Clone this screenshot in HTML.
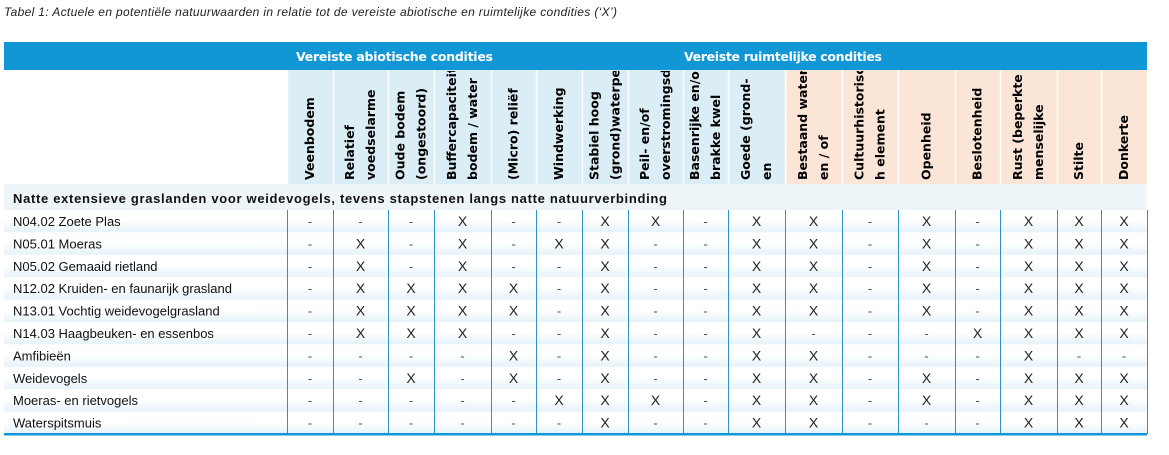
<!DOCTYPE html>
<html><head><meta charset="utf-8"><style>
html,body{margin:0;padding:0;background:#fff;}
svg{display:block;}
</style></head><body>
<svg id="tbl" width="1169" height="455" xmlns="http://www.w3.org/2000/svg">
<defs>
<linearGradient id="rowg" x1="0" y1="0" x2="0" y2="1">
<stop offset="0" stop-color="#ffffff"/><stop offset="0.45" stop-color="#ffffff"/><stop offset="1" stop-color="#e6f2f9"/>
</linearGradient>
</defs>
<text x="4" y="16" font-family="Liberation Sans, sans-serif" font-style="italic" font-size="12" fill="#222" textLength="613">Tabel 1: Actuele en potentiële natuurwaarden in relatie tot de vereiste abiotische en ruimtelijke condities (‘X’)</text>
<rect x="4" y="42" width="1143" height="28" fill="#1197d6"/>
<text x="296" y="61" font-family="DejaVu Sans, sans-serif" font-weight="bold" font-size="12.5" fill="#fff" textLength="197">Vereiste abiotische condities</text>
<text x="684" y="61" font-family="DejaVu Sans, sans-serif" font-weight="bold" font-size="12.5" fill="#fff" textLength="198">Vereiste ruimtelijke condities</text>
<rect x="4" y="184" width="1143" height="26" fill="#eef5f9"/>
<text x="13" y="203" font-family="Liberation Sans, sans-serif" font-weight="bold" font-size="13" fill="#111" textLength="654">Natte extensieve graslanden voor weidevogels, tevens stapstenen langs natte natuurverbinding</text>
<g id="hdr"></g>
<g id="body"></g>
</svg>
<script>
const columns = ["Veenbodem","Relatief|voedselarme","Oude bodem|(ongestoord)","Buffercapaciteit|bodem / water","(Micro) reliëf","Windwerking","Stabiel hoog|(grond)waterpeil","Peil- en/of|overstromingsd","Basenrijke en/of|brakke kwel","Goede (grond-|en","Bestaand water-|en / of","Cultuurhistorisc|h element","Openheid","Beslotenheid","Rust (beperkte|menselijke","Stilte","Donkerte"];
const columnGroup = ["a","a","a","a","a","a","a","a","a","a","r","r","r","r","r","r","r"];
const rowLabels = ["N04.02 Zoete Plas","N05.01 Moeras","N05.02 Gemaaid rietland","N12.02 Kruiden- en faunarijk grasland","N13.01 Vochtig weidevogelgrasland","N14.03 Haagbeuken- en essenbos","Amfibieën","Weidevogels","Moeras- en rietvogels","Waterspitsmuis"];
const cellValues = [
"---X--XX-XX-X-XXX",
"-X-X-XX--XX-X-XXX",
"-X-X--X--XX-X-XXX",
"-XXXX-X--XX-X-XXX",
"-XXXX-X--XX-X-XXX",
"-XXX--X--X---XXXX",
"----X-X--XX---X--",
"--X-X-X--XX-X-XXX",
"-----XXX-XX-X-XXX",
"------X--XX---XXX"
];
const NS="http://www.w3.org/2000/svg";
const edges=[287,333,388,434,491,536,582,628,683,728,785,842,898,955,1000,1057,1101,1147];
const hdr=document.getElementById('hdr'), body=document.getElementById('body');
const rowTop=210, rowH=22.4;
function mk(tag,attrs,parent){const e=document.createElementNS(NS,tag);for(const k in attrs)e.setAttribute(k,attrs[k]);parent.appendChild(e);return e;}
columns.forEach((c,i)=>{
  const x0=edges[i],x1=edges[i+1];
  const r=mk('rect',{x:x0,y:70,width:x1-x0,height:114,fill:columnGroup[i]==='a'?'#dbedf5':'#fbe5d6'},hdr);
  
  
  const cp=mk('clipPath',{id:'cp'+i},hdr);
  mk('rect',{x:x0,y:71,width:x1-x0,height:112},cp);
  const lines=c.split('|');
  const cx=(x0+x1)/2, lh=21;
  const g=mk('g',{'clip-path':'url(#cp'+i+')'},hdr);
  lines.forEach((ln,j)=>{
    const lx=cx+(j-(lines.length-1)/2)*lh+4;
    const t=mk('text',{x:lx,y:180,transform:'rotate(-90 '+lx+' 180)','font-family':'DejaVu Sans, sans-serif','font-weight':'bold','font-size':'12.5',fill:'#000'},g);
    
    
    t.textContent=ln;
  });
});
rowLabels.forEach((lab,r)=>{
  const y=rowTop+r*rowH;
  const bg=mk('rect',{x:4,y:y,width:1143,height:rowH,fill:'url(#rowg)'},body);
  
  
  const t=mk('text',{x:13,y:y+16,'font-family':'Liberation Sans, sans-serif','font-size':'13',fill:'#111'},body);
  
  
  t.textContent=lab;
  for(let c=0;c<columns.length;c++){
    const v=cellValues[r][c];
    const cx=(edges[c]+edges[c+1])/2;
    const ct=mk('text',{x:cx,y:y+16,'text-anchor':'middle','font-family':'Liberation Sans, sans-serif','font-size':v==='X'?'14':'13',fill:v==='X'?'#222':'#555'},body);
    
    
    ct.textContent=v;
  }
});
edges.forEach((x,i)=>{
  const l1=mk('line',{x1:x+0.5,x2:x+0.5,y1:70,y2:184,stroke:'#ffffff','stroke-width':1.5},hdr);
  
  
  const l2=mk('line',{x1:x+0.5,x2:x+0.5,y1:rowTop,y2:434,stroke:'#2c93c6','stroke-width':1},body);
  
  
});
const bl=mk('rect',{x:4,y:433,width:1143,height:2.5,fill:'#1197d6'},body);


</script>
</body></html>
